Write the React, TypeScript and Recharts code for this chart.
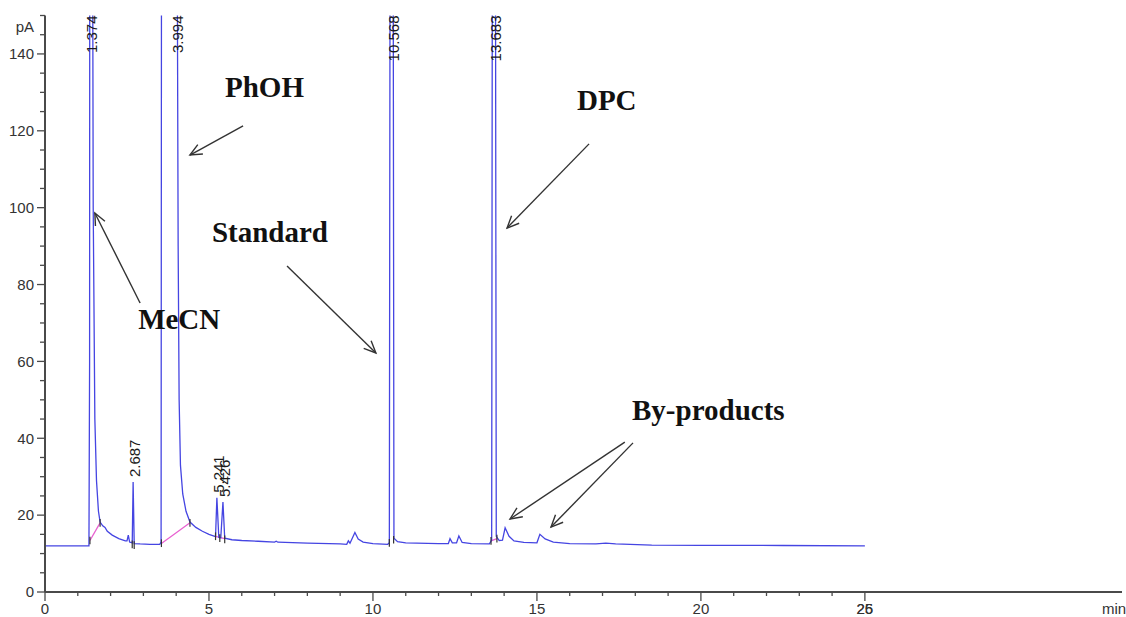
import React from 'react';
import { ComposedChart, Line, XAxis, YAxis, ReferenceLine, ReferenceDot } from 'recharts';

// detector signal, [retention time (min), signal (pA)]
const TRACE: [number, number][] = [
  [0, 12.0], [1.34, 12.0], [1.36, 60], [1.374, 400], [1.42, 300], [1.47, 100],
  [1.52, 45], [1.57, 29], [1.63, 21], [1.68, 18.2], [1.76, 17.2], [1.83, 16.8],
  [1.9, 15.8], [2.05, 14.8], [2.25, 13.9], [2.45, 13.3], [2.5, 13.3], [2.54, 14.8],
  [2.58, 13.0], [2.66, 12.8], [2.687, 28.6], [2.72, 12.6], [2.9, 12.5], [3.2, 12.4],
  [3.5, 12.4], [3.54, 13], [3.57, 400], [3.994, 500], [4.02, 200], [4.06, 90],
  [4.09, 50], [4.13, 33], [4.2, 25.5], [4.3, 21], [4.42, 18.2], [4.6, 16.8],
  [4.8, 15.8], [5.0, 15.0], [5.2, 14.4], [5.241, 24.5], [5.3, 14.2], [5.36, 14.1],
  [5.426, 23.4], [5.48, 14.0], [5.7, 13.6], [6.0, 13.4], [6.5, 13.2], [7.0, 13.0],
  [7.05, 13.2], [7.1, 12.95], [8.0, 12.7], [9.0, 12.5], [9.2, 12.4], [9.25, 13.3],
  [9.3, 12.7], [9.45, 15.5], [9.55, 13.8], [9.7, 13.0], [10.0, 12.6], [10.45, 12.4],
  [10.5, 12.8], [10.568, 500], [10.64, 14.0], [10.75, 13.1], [11.0, 12.8], [12.0, 12.6],
  [12.3, 12.6], [12.35, 13.9], [12.42, 12.8], [12.55, 12.8], [12.62, 14.6], [12.72, 12.9],
  [13.0, 12.6], [13.55, 12.5], [13.62, 13.5], [13.683, 500], [13.76, 14.5], [13.85, 13.4],
  [13.95, 13.5], [14.03, 16.7], [14.15, 14.5], [14.3, 13.3], [14.6, 12.9], [15.0, 12.8],
  [15.09, 15.0], [15.25, 13.8], [15.5, 13.0], [16.0, 12.6], [16.8, 12.5], [17.1, 12.7],
  [17.4, 12.5], [18.5, 12.2], [20, 12.15], [22.5, 12.1], [25.0, 12.0],
];

// integration baselines drawn under peaks
const BASELINES: [number, number][][] = [
  [[1.37, 13.4], [1.68, 18.0]],
  [[3.56, 12.7], [4.42, 18.0]],
  [[5.2, 14.5], [5.48, 13.9]],
  [[13.6, 13.3], [13.78, 13.9]],
];

// start / stop marks of the integrator
const MARKS: [number, number][] = [
  [1.37, 13.4], [1.68, 18.0], [2.66, 12.4], [2.72, 12.2], [3.55, 12.7], [4.42, 18.0],
  [5.2, 14.5], [5.33, 14.0], [5.48, 13.7], [10.5, 12.8], [10.63, 13.6], [13.6, 13.3], [13.78, 13.9],
];

const PEAK_TIMES = [1.374, 2.687, 3.994, 5.241, 5.426, 10.568, 13.683];
const PEAK_TOPS = [400, 28.6, 500, 24.5, 23.4, 500, 500];
const PEAK_LABELS = ['1.374', '2.687', '3.994', '5.241', '5.426', '10.568', '13.683'];

const NOTES = [
  { text: 'PhOH', t: 5.49, pA: 128.8 },
  { text: 'MeCN', t: 2.84, pA: 68.4 },
  { text: 'Standard', t: 5.09, pA: 91.1 },
  { text: 'DPC', t: 16.22, pA: 125.4 },
  { text: 'By-products', t: 17.9, pA: 44.8 },
];

// tail -> tip
const ARROWS = [
  [[6.04, 121.3], [4.42, 113.7]],
  [[2.9, 75.2], [1.52, 98.6]],
  [[7.38, 84.8], [10.09, 62.2]],
  [[16.59, 116.6], [14.09, 94.7]],
  [[17.68, 39.0], [14.18, 19.0]],
  [[17.93, 38.8], [15.43, 16.9]],
];

const X_TICKS = [0, 1, 2, 3, 4, 5, 6, 7, 8, 9, 10, 11, 12, 13, 14, 15, 16, 17, 18, 19, 20, 21, 22, 23, 24, 25];
const Y_TICKS = [0, 5, 10, 15, 20, 25, 30, 35, 40, 45, 50, 55, 60, 65, 70, 75, 80, 85, 90, 95, 100, 105, 110, 115, 120, 125, 130, 135, 140, 145, 150];

const SANS = '"Liberation Sans", Arial, sans-serif';
const SERIF = '"Liberation Serif", "Times New Roman", serif';
const AXIS = '#4a4a4a';

const traceData = TRACE.map(([t, pA]) => ({ t, pA }));

function XTick(props: any) {
  const { x, y, payload } = props;
  const v = payload.value;
  const major = v % 5 === 0;
  return (
    <g>
      <line x1={x} x2={x} y1={y} y2={y + (major ? 9 : 4)} stroke={AXIS} strokeWidth={1.3} />
      {major && (
        <text x={x} y={y + 22} textAnchor="middle" fontFamily={SANS} fontSize={15} fill="#333">
          {v}
        </text>
      )}
      {v === 25 && (
        <text x={x} y={y + 22} textAnchor="middle" fontFamily={SANS} fontSize={15} fill="#333">
          26
        </text>
      )}
    </g>
  );
}

function YTick(props: any) {
  const { x, y, payload } = props;
  const v = payload.value;
  const major = v % 20 === 0;
  return (
    <g>
      <line x1={x} x2={x - (major ? 8 : 5)} y1={y} y2={y} stroke={AXIS} strokeWidth={1.3} />
      {major && (
        <text x={x - 11} y={y} dy="0.35em" textAnchor="end" fontFamily={SANS} fontSize={15} fill="#333">
          {v}
        </text>
      )}
      {v === 150 && (
        <text x={x - 11} y={y + 16} textAnchor="end" fontFamily={SANS} fontSize={15} fill="#333">
          pA
        </text>
      )}
    </g>
  );
}

function Arrow(props: any) {
  const { x1, y1, x2, y2 } = props;
  const a = Math.atan2(y2 - y1, x2 - x1);
  const len = 13;
  const w = 0.42;
  const ax = x2 - len * Math.cos(a - w);
  const ay = y2 - len * Math.sin(a - w);
  const bx = x2 - len * Math.cos(a + w);
  const by = y2 - len * Math.sin(a + w);
  return (
    <g>
      <line x1={x1} y1={y1} x2={x2} y2={y2} stroke="#333" strokeWidth={1.4} />
      <polyline points={`${ax},${ay} ${x2},${y2} ${bx},${by}`} fill="none" stroke="#333" strokeWidth={1.4} />
    </g>
  );
}

export default function App() {
  return (
    <div style={{ position: 'absolute', left: 0, top: 0, width: 1126, height: 617, background: '#fff' }}>
      <ComposedChart width={1126} height={617} margin={{ top: 15.5, right: 4, bottom: 0, left: 0 }}>
        <XAxis
          type="number"
          dataKey="t"
          domain={[0, 32.84]}
          ticks={X_TICKS}
          interval={0}
          tickSize={0}
          tickMargin={0}
          tickLine={false}
          height={25}
          axisLine={{ stroke: AXIS, strokeWidth: 2 }}
          tick={<XTick />}
        />
        <YAxis
          type="number"
          domain={[0, 150]}
          ticks={Y_TICKS}
          interval={0}
          allowDataOverflow
          tickSize={0}
          tickMargin={0}
          tickLine={false}
          width={45}
          axisLine={{ stroke: AXIS, strokeWidth: 2 }}
          tick={<YTick />}
        />
        {BASELINES.map((seg, i) => (
          <Line
            key={'b' + i}
            data={seg.map(([t, pA]) => ({ t, pA }))}
            dataKey="pA"
            type="linear"
            stroke="#e860d0"
            strokeWidth={1.3}
            dot={false}
            isAnimationActive={false}
          />
        ))}
        <Line
          data={traceData}
          dataKey="pA"
          type="linear"
          stroke="#4545e2"
          strokeWidth={1.3}
          dot={false}
          isAnimationActive={false}
        />
        {MARKS.map(([t, pA], i) => (
          <ReferenceLine
            key={'m' + i}
            segment={[{ x: t, y: pA - 1 }, { x: t, y: pA + 1 }]}
            stroke="#333"
            strokeWidth={1.2}
          />
        ))}
        {PEAK_TIMES.map((t, i) => {
          const tall = PEAK_TOPS[i] > 150;
          return (
            <ReferenceDot
              key={'p' + i}
              x={t}
              y={tall ? 150 : PEAK_TOPS[i] + 1.3}
              r={0}
              shape={(p: any) => (
                <text
                  transform={`translate(${p.cx + 1.5},${p.cy}) rotate(-90)`}
                  textAnchor={tall ? 'end' : 'start'}
                  dominantBaseline="central"
                  fontFamily={SANS}
                  fontSize={15}
                  fill="#1a1a1a"
                >
                  {PEAK_LABELS[i]}
                </text>
              )}
            />
          );
        })}
        {ARROWS.map((a, i) => (
          <ReferenceLine
            key={'a' + i}
            segment={[{ x: a[0][0], y: a[0][1] }, { x: a[1][0], y: a[1][1] }]}
            shape={<Arrow />}
          />
        ))}
        {NOTES.map((n, i) => (
          <ReferenceDot
            key={'n' + i}
            x={n.t}
            y={n.pA}
            r={0}
            shape={(p: any) => (
              <text x={p.cx} y={p.cy} fontFamily={SERIF} fontWeight="bold" fontSize={29} fill="#111">
                {n.text}
              </text>
            )}
          />
        ))}
        <ReferenceDot
          x={32.6}
          y={0}
          r={0}
          shape={(p: any) => (
            <text x={p.cx} y={p.cy + 22} textAnchor="middle" fontFamily={SANS} fontSize={15} fill="#333">
              min
            </text>
          )}
        />
      </ComposedChart>
    </div>
  );
}
